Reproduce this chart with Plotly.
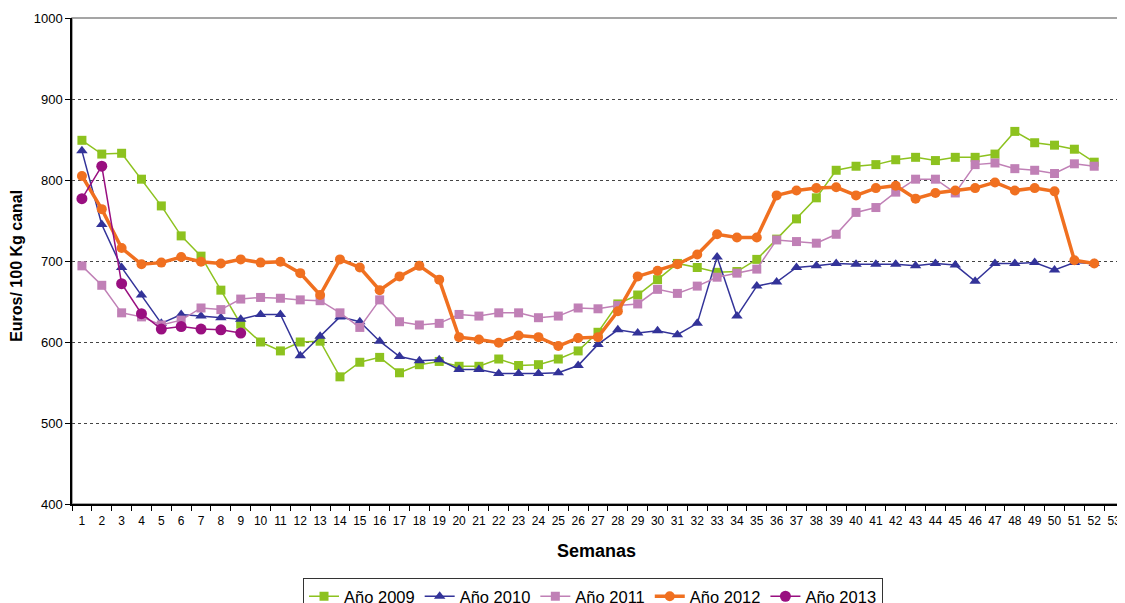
import plotly.graph_objects as go

weeks = [str(w) for w in range(1, 53)]
all_weeks = [str(w) for w in range(1, 54)]

y2009 = [849, 832, 833, 801, 768, 731, 706, 664, 622, 600, 589, 600, 601, 557, 575, 581,
         562, 572, 576, 570, 570, 579, 571, 572, 579, 589, 612, 647, 658, 677, 697, 692,
         686, 687, 702, 727, 752, 778, 812, 817, 819, 825, 828, 824, 828, 828, 832, 860,
         846, 843, 838, 822]
y2010 = [836, 745, 692, 658, 623, 634, 632, 630, 628, 634, 634, 583, 607, 631, 625, 601,
         582, 577, 578, 566, 566, 561, 561, 561, 562, 571, 597, 615, 611, 614, 609, 623,
         705, 632, 669, 674, 692, 694, 697, 696, 696, 696, 694, 697, 695, 675, 697, 697,
         698, 689, 698, 697]
y2011 = [694, 670, 636, 631, 621, 627, 642, 640, 653, 655, 654, 652, 651, 636, 618, 652,
         625, 621, 623, 634, 632, 636, 636, 630, 632, 642, 641, 645, 647, 665, 660, 669,
         680, 685, 690, 726, 724, 722, 733, 760, 766, 785, 801, 801, 784, 819, 821, 814,
         812, 808, 820, 817]
y2012 = [805, 764, 716, 696, 698, 705, 699, 697, 702, 698, 699, 685, 658, 702, 692, 664,
         681, 694, 677, 606, 603, 599, 608, 606, 595, 605, 606, 638, 681, 688, 696, 708,
         733, 729, 729, 781, 787, 790, 791, 781, 790, 793, 777, 784, 787, 790, 797, 787,
         790, 786, 701, 697]
y2013 = [777, 817, 672, 635, 616, 619, 616, 615, 611]

series = [
    ("Año 2009", y2009, "#8DC21F", "square", 9, 1.5),
    ("Año 2010", y2010, "#333399", "triangle-up", 10, 1.5),
    ("Año 2011", y2011, "#C080B6", "square", 9, 1.5),
    ("Año 2012", y2012, "#F07020", "circle", 10, 3.5),
    ("Año 2013", y2013, "#990F80", "circle", 11, 1.5),
]

fig = go.Figure()
for name, vals, color, symbol, msize, lw in series:
    fig.add_trace(go.Scatter(
        x=weeks[:len(vals)], y=vals, name=name, mode="lines+markers",
        line=dict(color=color, width=lw),
        marker=dict(symbol=symbol, size=msize, color=color, line=dict(width=0)),
    ))

fig.update_layout(
    width=1117, height=595,
    margin=dict(l=64, r=1, t=10, b=99, autoexpand=False),
    paper_bgcolor="white", plot_bgcolor="white",
    font=dict(family="Liberation Sans, Arial, sans-serif", color="black"),
    showlegend=True,
    legend=dict(
        orientation="h", x=0.2196, xanchor="left", y=-0.1523, yanchor="top",
        bordercolor="#333333", borderwidth=1, bgcolor="white",
        font=dict(size=16.5, color="black"), tracegroupgap=0, itemwidth=30,
    ),
    shapes=[dict(type="rect", xref="paper", yref="paper", x0=0, x1=1, y0=0, y1=1,
                 line=dict(color="#888888", width=1.5), layer="below")],
    annotations=[
        dict(text="<b>Euros/ 100 Kg canal</b>", xref="paper", yref="paper",
             x=(17 - 72) / 1052, y=0.49, textangle=-90, showarrow=False,
             font=dict(size=16, color="black"), xanchor="center", yanchor="middle"),
        dict(text="<b>Semanas</b>", xref="paper", yref="paper",
             x=0.499, y=-0.097, showarrow=False,
             font=dict(size=18, color="black"), xanchor="center", yanchor="middle"),
    ],
)

fig.update_xaxes(
    type="category", categoryorder="array", categoryarray=all_weeks,
    range=[-0.5, 52.5], tickmode="array", tickvals=all_weeks, ticktext=all_weeks,
    tickson="boundaries", ticks="outside", ticklen=5, tickcolor="black", tickwidth=1,
    showline=True, linecolor="black", linewidth=1.5, showgrid=False, zeroline=False,
    tickfont=dict(size=12, color="black"), ticklabelstandoff=5, tickangle=0,
    automargin=False,
)
fig.update_yaxes(
    range=[400, 1000], dtick=100, tick0=400,
    ticks="outside", ticklen=5, tickcolor="black", tickwidth=1,
    showline=True, linecolor="black", linewidth=1.5,
    showgrid=True, gridcolor="#444444", griddash="dot", gridwidth=1,
    zeroline=False, tickfont=dict(size=13, color="black"), automargin=False,
)

fig.write_html("out.html")
